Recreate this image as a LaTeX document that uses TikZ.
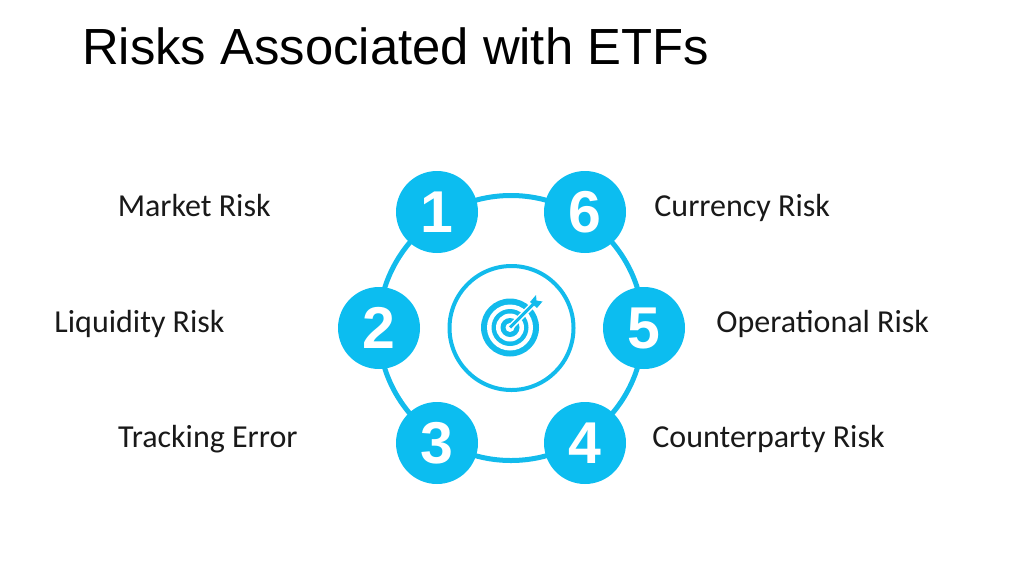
\documentclass[tikz,border=0pt]{standalone}
\usepackage{fontspec}
\setmainfont{Carlito}
\newfontfamily\arialfont{Liberation Sans}
\usetikzlibrary{positioning}
\definecolor{riskblue}{RGB}{12,189,240}
\definecolor{ringblue}{RGB}{18,187,236}
\tikzset{
    numbered/.style={circle, fill=riskblue, text=white, inner sep=0pt, minimum size=82pt, font=\arialfont\bfseries\fontsize{59}{59}\selectfont},
    risklabel/.style={inner sep=0pt, font=\fontsize{32}{32}\selectfont, text=black!90},
    ringline/.style={circle, draw=ringblue, inner sep=0pt}
}

\begin{document}
\begin{tikzpicture}[x=1pt, y=-1pt]
        \useasboundingbox (0, 0) rectangle (1024, 576);

        % Title
        \node[anchor=base west, inner sep=0pt, font=\arialfont\fontsize{50.8}{50.8}\selectfont] (title) at (82, 64) {Risks Associated with ETFs};

        % Rings
        \node[ringline, line width=5pt, minimum size=265pt] (ring) at (511, 328) {};
        \node[ringline, line width=4pt, minimum size=124pt] (hub) at (511.5, 328) {};

        % Numbered circles
        \node[numbered] (one) at (437, 212) {1};
        \node[numbered] (six) at (585, 212) {6};
        \node[numbered] (two) at (379, 328) {2};
        \node[numbered] (five) at (644, 328) {5};
        \node[numbered] (three) at (437, 443) {3};
        \node[numbered] (four) at (585, 443) {4};

        % Risk labels
        \node[risklabel, left=125pt of one, yshift=6pt] (market) {Market Risk};
        \node[risklabel, left=113pt of two, yshift=4pt] (liquidity) {Liquidity Risk};
        \node[risklabel, left=98pt of three, yshift=4pt] (tracking) {Tracking Error};
        \node[risklabel, right=28pt of six, yshift=4pt] (currency) {Currency Risk};
        \node[risklabel, right=31pt of five, yshift=4pt] (operational) {Operational Risk};
        \node[risklabel, right=26pt of four, yshift=4pt] (counterparty) {Counterparty Risk};

        % Target icon
        \fill[ringblue] (510, 327.5) circle (29);
        \fill[white] (510, 327.5) circle (23);
        \fill[ringblue] (510, 327.5) circle (18.5);
        \fill[white] (510, 327.5) circle (14);
        \fill[ringblue] (510, 327.5) circle (9.5);
        \fill[white] (510, 327.5) circle (4.5);
        \draw[white, line width=6pt] (510, 327.5) -- (532, 305.5);
        \draw[ringblue, line width=3pt] (510, 327.5) -- (534, 303.5);
        \fill[ringblue] (530, 302) -- (536, 295) -- (536.5, 300.5) -- (542.5, 301.5) -- (537, 308) -- cycle;
    \end{tikzpicture}
\end{document}
